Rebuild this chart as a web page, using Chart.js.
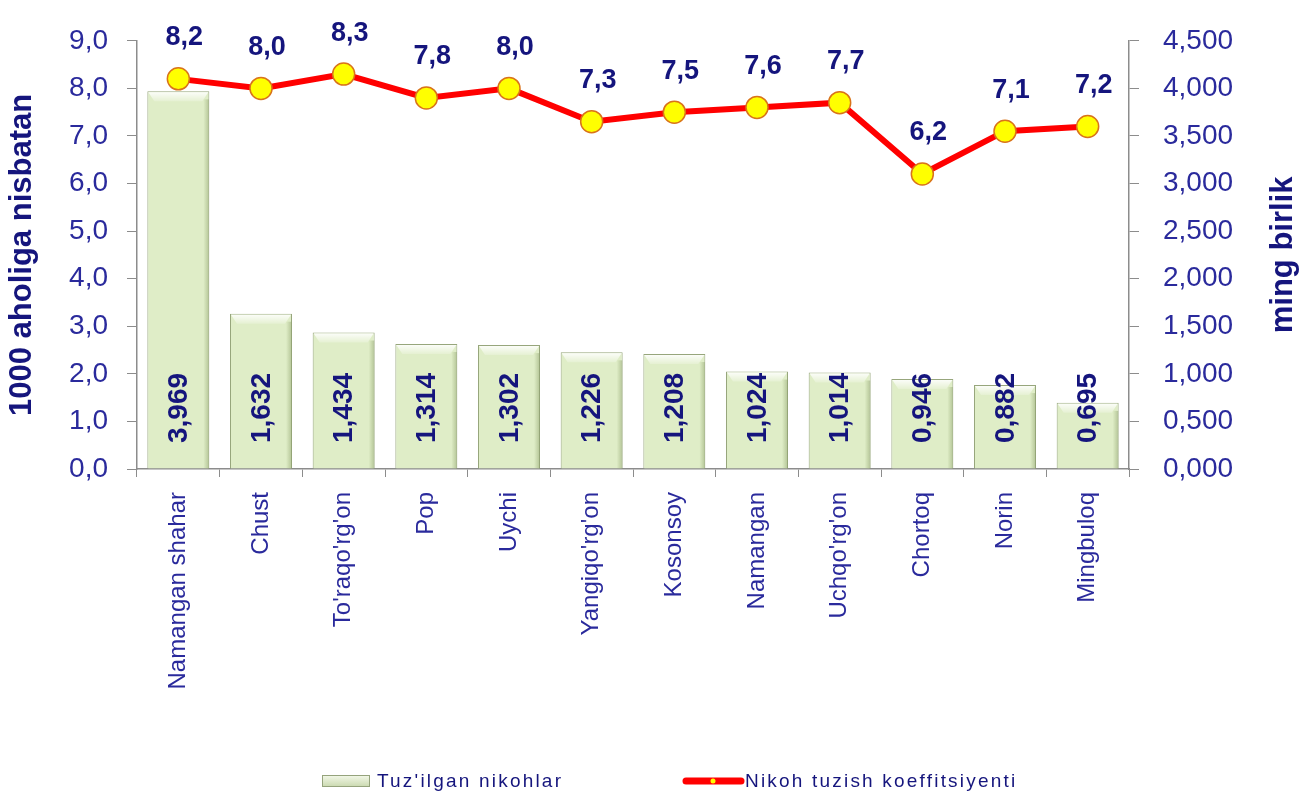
<!DOCTYPE html>
<html>
<head>
<meta charset="utf-8">
<script src="https://cdn.jsdelivr.net/npm/chart.js@4.4.0/dist/chart.umd.min.js"></script>
<style>
    html, body { margin: 0; padding: 0; background: #ffffff; }
    #wrap { width: 1301px; height: 794px; position: relative; }
</style>
</head>
<body>
<div id="wrap"><canvas id="nikohChart" width="1301" height="794"></canvas></div>
<script>
// Tumanlar
const categories = ['Namangan shahar', 'Chust', "To'raqo'rg'on", 'Pop', 'Uychi', "Yangiqo'rg'on",
    'Kosonsoy', 'Namangan', "Uchqo'rg'on", 'Chortoq', 'Norin', 'Mingbuloq'];
// Tuz'ilgan nikohlar (ming birlik)
const nikohlar = [3.969, 1.632, 1.434, 1.314, 1.302, 1.226, 1.208, 1.024, 1.014, 0.946, 0.882, 0.695];
// Nikoh tuzish koeffitsiyenti (1000 aholiga nisbatan)
const koeffitsiyent = [8.2, 8.0, 8.3, 7.8, 8.0, 7.3, 7.5, 7.6, 7.7, 6.2, 7.1, 7.2];

const leftTicks = [0, 1, 2, 3, 4, 5, 6, 7, 8, 9];
const rightTicks = [0, 0.5, 1, 1.5, 2, 2.5, 3, 3.5, 4, 4.5];

const tickColor = '#2a2a9c';
const boldColor = '#15157d';
const axisColor = '#8c8c8c';
const fontFam = '"Liberation Sans", Arial, sans-serif';

const comma = (v, d) => Number(v).toFixed(d).replace('.', ',');

// ustunlarga hajm berish (Excel uslubidagi qiyalik)
const bevelPlugin = {
    id: 'bevelPlugin',
    afterDatasetDraw(chart, args) {
        if (args.index !== 1) return;
        const ctx = chart.ctx;
        ctx.save();
        args.meta.data.forEach(bar => {
            const w = bar.width;
            const left = bar.x - w / 2;
            const right = bar.x + w / 2;
            const top = bar.y;
            const base = bar.base;
            const g = ctx.createLinearGradient(0, top, 0, top + 10);
            g.addColorStop(0, 'rgba(255,255,255,0.95)');
            g.addColorStop(1, 'rgba(255,255,255,0.2)');
            ctx.fillStyle = g;
            ctx.beginPath();
            ctx.moveTo(left + 1, top + 1);
            ctx.lineTo(right - 1, top + 1);
            ctx.lineTo(right - 7, top + 10);
            ctx.lineTo(left + 7, top + 10);
            ctx.closePath();
            ctx.fill();
            const gs = ctx.createLinearGradient(right - 6, 0, right, 0);
            gs.addColorStop(0, 'rgba(140,160,105,0)');
            gs.addColorStop(1, 'rgba(140,160,105,0.55)');
            ctx.fillStyle = gs;
            ctx.fillRect(right - 6, top + 8, 5.5, base - top - 8);
        });
        ctx.restore();
    }
};

// yorliqlar va legenda
const labelsPlugin = {
    id: 'labelsPlugin',
    afterDatasetsDraw(chart) {
        const ctx = chart.ctx;
        const lineMeta = chart.getDatasetMeta(0);
        const barMeta = chart.getDatasetMeta(1);
        const base = chart.scales.y1.getPixelForValue(0);
        const area = chart.chartArea;

        ctx.save();
        // ustunlar ichidagi qiymatlar
        ctx.fillStyle = boldColor;
        ctx.font = 'bold 28px ' + fontFam;
        ctx.textAlign = 'left';
        ctx.textBaseline = 'middle';
        barMeta.data.forEach((bar, i) => {
            ctx.save();
            ctx.translate(bar.x, base - 26);
            ctx.rotate(-Math.PI / 2);
            ctx.fillText(comma(nikohlar[i], 3), 0, 1);
            ctx.restore();
        });

        // chiziq nuqtalari ustidagi qiymatlar
        ctx.font = 'bold 27px ' + fontFam;
        ctx.textAlign = 'center';
        lineMeta.data.forEach((pt, i) => {
            ctx.fillText(comma(koeffitsiyent[i], 1), pt.x + 6, Math.max(pt.y - 41, 34));
        });

        // o'ng o'q sarlavhasi (pastdan yuqoriga)
        ctx.save();
        ctx.font = 'bold 31px ' + fontFam;
        ctx.textAlign = 'center';
        ctx.translate(1283, (area.top + area.bottom) / 2);
        ctx.rotate(-Math.PI / 2);
        ctx.fillText('ming birlik', 0, 0);
        ctx.restore();

        // legenda
        const ly = 781;
        const g = ctx.createLinearGradient(0, ly - 6, 0, ly + 6);
        g.addColorStop(0, '#f4f9ea');
        g.addColorStop(1, '#c9d8ae');
        ctx.fillStyle = g;
        ctx.fillRect(322, ly - 6, 48, 12);
        ctx.strokeStyle = '#95a37c';
        ctx.lineWidth = 1;
        ctx.strokeRect(322.5, ly - 5.5, 47, 11);

        ctx.fillStyle = boldColor;
        ctx.font = '19px ' + fontFam;
        ctx.letterSpacing = '2.2px';
        ctx.textAlign = 'left';
        ctx.fillText("Tuz'ilgan nikohlar", 377, ly + 1);

        ctx.strokeStyle = '#ff0000';
        ctx.lineWidth = 7;
        ctx.lineCap = 'round';
        ctx.beginPath();
        ctx.moveTo(686, ly);
        ctx.lineTo(741, ly);
        ctx.stroke();
        ctx.fillStyle = '#ffff00';
        ctx.beginPath();
        ctx.arc(713, ly, 2.5, 0, Math.PI * 2);
        ctx.fill();

        ctx.fillStyle = boldColor;
        ctx.fillText('Nikoh tuzish koeffitsiyenti', 745, ly + 1);
        ctx.restore();
    }
};

const ctxChart = document.getElementById('nikohChart').getContext('2d');

new Chart(ctxChart, {
    type: 'bar',
    data: {
        labels: categories,
        datasets: [{
            type: 'line',
            label: 'Nikoh tuzish koeffitsiyenti',
            data: koeffitsiyent,
            yAxisID: 'y',
            order: 0,
            borderColor: '#ff0000',
            borderWidth: 6,
            tension: 0,
            pointRadius: 11,
            pointHoverRadius: 11,
            pointBackgroundColor: '#ffff00',
            pointBorderColor: '#d9731a',
            pointBorderWidth: 1.5,
            clip: false
        }, {
            type: 'bar',
            label: "Tuz'ilgan nikohlar",
            data: nikohlar,
            yAxisID: 'y1',
            order: 1,
            backgroundColor: '#dfedc7',
            borderColor: '#97a67c',
            borderWidth: 1,
            categoryPercentage: 1,
            barPercentage: 0.75
        }]
    },
    options: {
        responsive: false,
        animation: false,
        layout: { padding: { top: 40, left: 0, right: 0, bottom: 0 } },
        plugins: {
            legend: { display: false },
            tooltip: { enabled: false },
            title: { display: false }
        },
        scales: {
            x: {
                grid: {
                    display: true,
                    drawOnChartArea: false,
                    drawTicks: true,
                    tickLength: 8,
                    color: axisColor,
                    offset: true
                },
                border: { display: true, color: axisColor, width: 1.5 },
                ticks: {
                    minRotation: 90,
                    maxRotation: 90,
                    autoSkip: false,
                    padding: 15,
                    color: tickColor,
                    font: { family: fontFam, size: 24 }
                },
                afterFit: (scale) => { scale.height = 794 - 469; }
            },
            y: {
                position: 'left',
                min: 0,
                max: 9,
                afterBuildTicks: (scale) => { scale.ticks = leftTicks.map(v => ({ value: v })); },
                grid: { drawOnChartArea: false, drawTicks: true, tickLength: 10, color: axisColor },
                border: { display: true, color: axisColor, width: 1.5 },
                ticks: {
                    padding: 19,
                    color: tickColor,
                    font: { family: fontFam, size: 28 },
                    callback: (v) => comma(v, 1)
                },
                title: {
                    display: true,
                    text: '1000 aholiga nisbatan',
                    color: boldColor,
                    font: { family: fontFam, size: 31, weight: 'bold' },
                    padding: { top: 4, bottom: 0 }
                },
                afterFit: (scale) => { scale.width = 137; }
            },
            y1: {
                position: 'right',
                min: 0,
                max: 4.5,
                afterBuildTicks: (scale) => { scale.ticks = rightTicks.map(v => ({ value: v })); },
                grid: { drawOnChartArea: false, drawTicks: true, tickLength: 10, color: axisColor },
                border: { display: true, color: axisColor, width: 1.5 },
                ticks: {
                    padding: 24,
                    color: tickColor,
                    font: { family: fontFam, size: 28 },
                    callback: (v) => comma(v, 3)
                },
                title: { display: false },
                afterFit: (scale) => { scale.width = 1301 - 1129; }
            }
        }
    },
    plugins: [bevelPlugin, labelsPlugin]
});
</script>
</body>
</html>
